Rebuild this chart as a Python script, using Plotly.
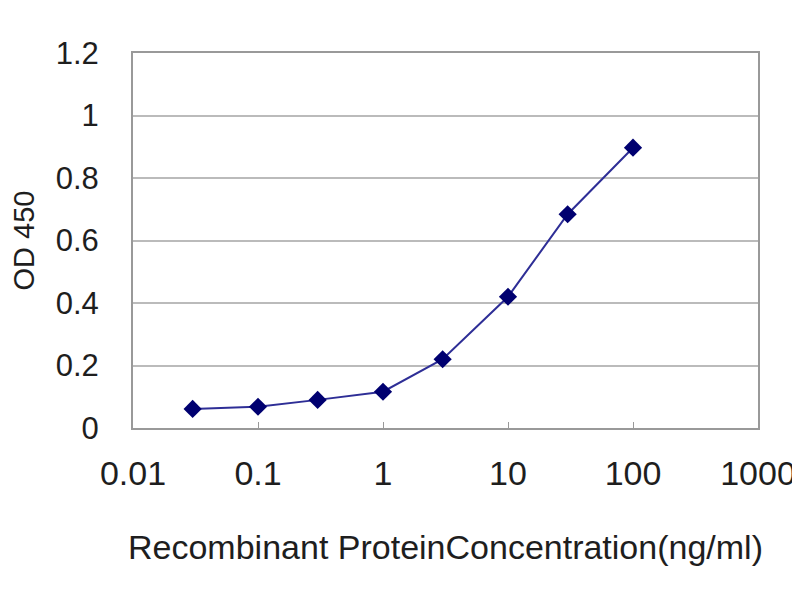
import plotly.graph_objects as go

# Concentrations (ng/ml) and measured OD 450 values
concentration = [0.03, 0.1, 0.3, 1, 3, 10, 30, 100]
od450 = [0.061, 0.068, 0.09, 0.116, 0.22, 0.42, 0.684, 0.897]

x_ticks = [0.01, 0.1, 1, 10, 100, 1000]
x_tick_labels = ["0.01", "0.1", "1", "10", "100", "1000"]
y_ticks = [0, 0.2, 0.4, 0.6, 0.8, 1, 1.2]
y_tick_labels = ["0", "0.2", "0.4", "0.6", "0.8", "1", "1.2"]

fig = go.Figure()

fig.add_trace(go.Scatter(
    x=concentration, y=od450, mode='lines+markers',
    line=dict(color='#2e2e96', width=2),
    marker=dict(symbol='diamond', size=14, color='#000070'),
    showlegend=False))

# page body has an 8px margin, so margins are shifted to compensate
fig.update_layout(
    width=800, height=600,
    margin=dict(l=125, r=50, t=45, b=180),
    paper_bgcolor='white', plot_bgcolor='white',
    font=dict(family='Liberation Sans, Arial, sans-serif', color='#1e1e1e'))

fig.update_xaxes(
    type='log', range=[-2, 3], automargin=False,
    tickvals=x_ticks, ticktext=x_tick_labels,
    tickfont=dict(size=34),
    ticks='inside', ticklen=6, tickcolor='#999999',
    ticklabelstandoff=14,
    showgrid=False, zeroline=False,
    showline=True, linecolor='#999999', linewidth=2, mirror=True,
    title=dict(text='Recombinant ProteinConcentration(ng/ml)',
               font=dict(size=34), standoff=44))

fig.update_yaxes(
    range=[0, 1.2], tickvals=y_ticks, ticktext=y_tick_labels,
    automargin=False,
    tickfont=dict(size=31),
    ticks='', ticklabelstandoff=26,
    showgrid=True, gridcolor='#bbbbbb', gridwidth=1.5, zeroline=False,
    showline=True, linecolor='#999999', linewidth=2, mirror=True,
    title=dict(text='OD 450', font=dict(size=29), standoff=28))

fig.write_html("out.html")
